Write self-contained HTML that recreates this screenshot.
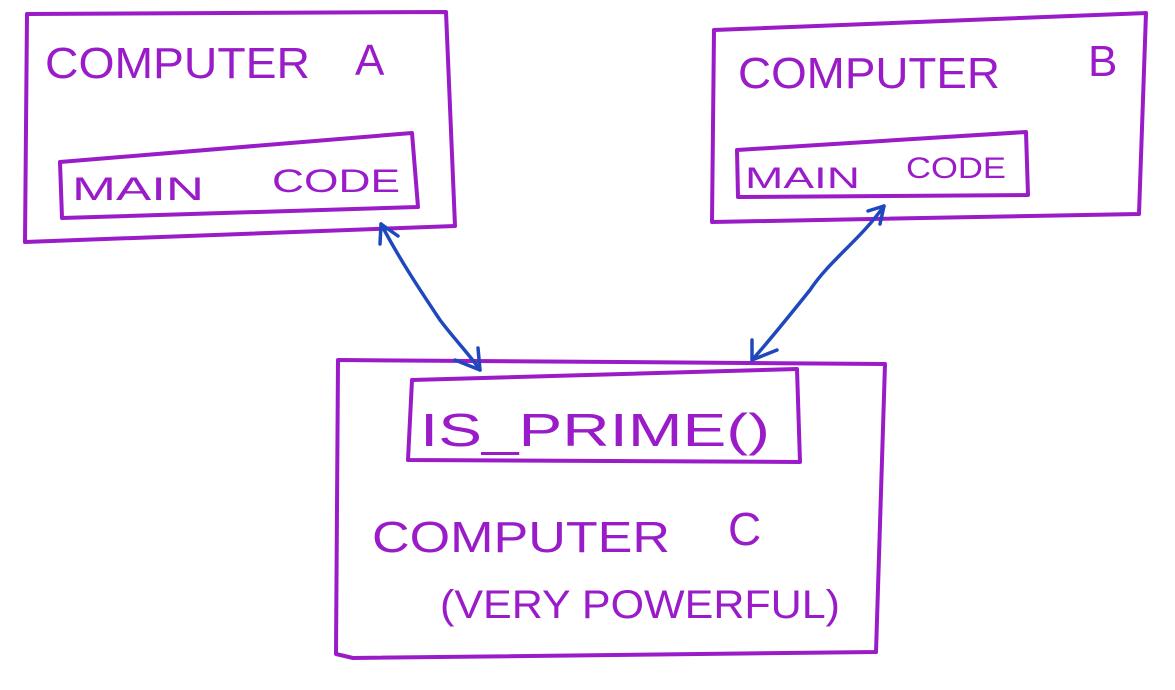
<!DOCTYPE html>
<html><head><meta charset="utf-8"><style>html,body{margin:0;padding:0;background:#fff}svg{display:block}</style></head>
<body>
<svg width="1175" height="690" viewBox="0 0 1175 690" xmlns="http://www.w3.org/2000/svg">
<g fill="none" stroke="#9a1bc8" stroke-width="4" stroke-linecap="round" stroke-linejoin="round">
<path d="M27 14 L446 12 L455 226 L25 242 Z"/>
<path d="M60 162 L412 133 L418 207 L62 218 Z"/>
<path d="M714 30 L1146 13 L1139 214 L712 222 Z"/>
<path d="M737 150 L1026 132 L1028 195 L738 197 Z"/>
<path d="M338 360 L885 364 L876 652 L353 658 L336 654 Z"/>
<path d="M412 380 L797 369 L800 462 L408 460 Z"/>
</g>
<g fill="none" stroke="#1f48bd" stroke-width="3.5" stroke-linecap="round" stroke-linejoin="round">
<path d="M381 224 C400 260 420 290 440 320 C455 340 470 355 480 370"/>
<path d="M380 244 L381 224 L398 236"/>
<path d="M455 360 L480 370 L478 348"/>
<path d="M884 206 C860 240 830 260 810 290 C790 315 770 340 752 360"/>
<path d="M868 211 L884 206 L880 224"/>
<path d="M752 340 L752 360 L777 350"/>
</g>
<g fill="#9a1bc8" font-family="Liberation Sans, sans-serif" font-weight="normal">
<text x="45" y="78" font-size="44" textLength="265" lengthAdjust="spacingAndGlyphs">COMPUTER</text>
<text x="355" y="75" font-size="44">A</text>
<text x="72" y="200" font-size="32" textLength="132" lengthAdjust="spacingAndGlyphs">MAIN</text>
<text x="272" y="192" font-size="32" textLength="128" lengthAdjust="spacingAndGlyphs">CODE</text>
<text x="738" y="88" font-size="44" textLength="262" lengthAdjust="spacingAndGlyphs">COMPUTER</text>
<text x="1088" y="76" font-size="44">B</text>
<text x="745" y="188" font-size="30" textLength="115" lengthAdjust="spacingAndGlyphs">MAIN</text>
<text x="906" y="178" font-size="30" textLength="100" lengthAdjust="spacingAndGlyphs">CODE</text>
<text x="420" y="446" font-size="46" textLength="350" lengthAdjust="spacingAndGlyphs">IS_PRIME()</text>
<text x="372" y="552" font-size="44" textLength="298" lengthAdjust="spacingAndGlyphs">COMPUTER</text>
<text x="728" y="545" font-size="46">C</text>
<text x="440" y="618" font-size="40" textLength="400" lengthAdjust="spacingAndGlyphs">(VERY POWERFUL)</text>
</g>
</svg>
</body></html>
